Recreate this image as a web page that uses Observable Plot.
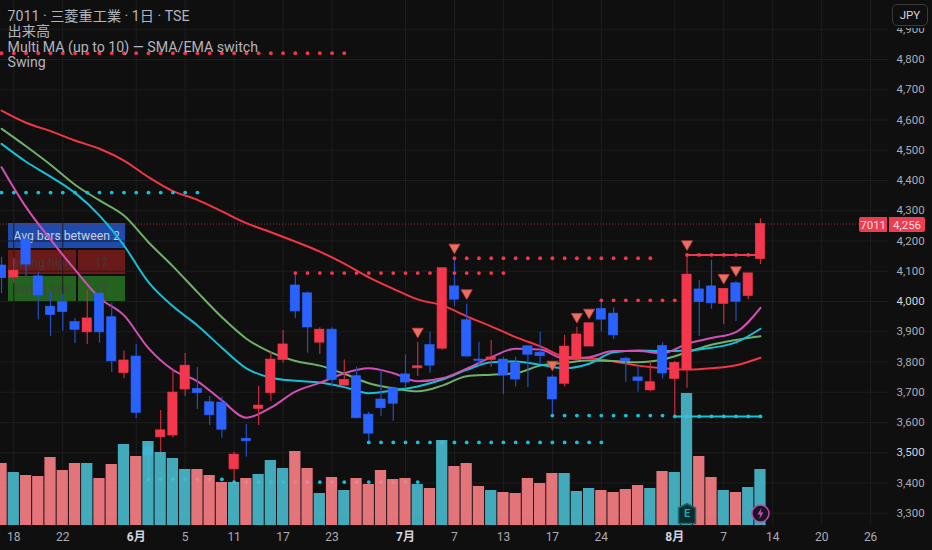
<!DOCTYPE html>
<html lang="ja">
<head>
<meta charset="utf-8">
<script src="https://cdn.jsdelivr.net/npm/d3@7"></script>
<script src="https://cdn.jsdelivr.net/npm/@observablehq/plot@0.6"></script>
<style>
  html, body { margin: 0; padding: 0; background: #0f0f0f; }
  #wrap { position: relative; width: 932px; height: 550px; overflow: hidden; font-family: Roboto, "Noto Sans CJK JP", sans-serif; }
  #wrap svg { position: absolute; left: 0; top: 0; display: block; }
  .cell { position: absolute; display: flex; align-items: center; justify-content: center; white-space: nowrap; }
</style>
</head>
<body>
<div id="wrap"></div>
<script>
const opens  = [4119,4079,4205,4083,3983,3998,3932,3898,4026,3948,3763,3818,3517,3551,3557,3709,3711,3667,3666,3445,3546,3645,3697,3807,4053,4027,3864,3907,3722,3753,3626,3676,3713,3759,3779,3856,3844,4050,3938,3808,3807,3808,3796,3852,3831,3749,3728,3807,3851,3975,3960,3811,3749,3706,3853,3744,3775,4040,4050,3992,4060,4018,4140];
const closes = [4077,4102,4122,4020,3955,3965,3906,3944,3898,3802,3805,3632,3491,3574,3699,3788,3697,3624,3576,3494,3538,3656,3808,3858,3967,3914,3907,3740,3741,3614,3563,3647,3662,3732,3786,3788,4110,4006,3818,3804,3815,3755,3742,3824,3819,3676,3851,3891,3928,3940,3888,3802,3737,3733,3762,3797,4089,3998,3994,4042,3999,4093,4256];
const highs  = [4146,4142,4208,4097,4031,4023,3944,4036,4033,3994,3836,3858,3537,3640,3775,3828,3782,3686,3684,3502,3593,3719,3832,3904,4092,4031,3913,3913,3807,3783,3634,3774,3717,3824,3865,3898,4110,4141,3992,3865,3871,3816,3816,3852,3898,3755,3888,3915,3928,4003,3979,3816,3783,3799,3863,3802,4152,4069,4136,4042,4066,4093,4273];
const lows   = [4026,4060,4083,3940,3884,3902,3861,3858,3862,3765,3745,3613,3412,3488,3549,3686,3643,3590,3548,3403,3485,3590,3669,3796,3943,3829,3825,3717,3722,3612,3535,3620,3604,3711,3752,3763,3838,3983,3818,3788,3783,3692,3717,3715,3794,3623,3717,3807,3851,3899,3874,3733,3700,3702,3744,3620,3713,3884,3974,3923,3934,4006,4122];
const volumes = [6.2,5.3,5.0,4.9,6.8,5.5,6.2,6.2,4.7,6.1,8.1,6.9,8.4,7.3,6.7,5.6,5.6,5.0,4.3,4.3,4.7,5.1,6.5,5.7,7.4,5.7,3.2,4.8,3.5,4.7,4.1,5.5,4.6,4.7,4.1,3.7,8.5,5.9,6.2,3.9,3.5,3.3,3.2,4.7,4.2,5.2,5.2,3.4,3.7,3.5,3.3,3.6,4.0,3.7,5.4,5.3,13.2,6.9,4.8,3.5,3.3,3.8,5.6];
const tealVolumeBars = [1,7,10,12,13,14,15,19,21,22,23,26,28,34,36,40,46,47,48,53,55,56,59,61,62];

const maIndex = [0,2,4,6,8,10,12,14,16,18,20,22,24,26,28,30,32,34,36,38,40,42,44,46,48,50,52,54,56,58,60,62];
const maRed     = [4631,4591,4563,4532,4505,4466,4411,4365,4336,4298,4259,4229,4198,4165,4125,4080,4042,4007,3987,3951,3918,3882,3852,3818,3813,3802,3788,3779,3775,3779,3789,3814];
const maGreen   = [4571,4513,4452,4386,4334,4284,4196,4116,4031,3948,3877,3832,3803,3788,3761,3730,3713,3703,3722,3753,3758,3763,3788,3797,3805,3803,3799,3808,3832,3857,3873,3885];
const maCyan    = [4521,4462,4413,4359,4284,4185,4064,3984,3921,3847,3779,3748,3738,3732,3717,3697,3706,3719,3742,3774,3799,3802,3791,3779,3794,3832,3838,3836,3838,3847,3865,3910];
const maMagenta = [4444,4312,4205,4105,4012,3954,3846,3774,3736,3673,3616,3649,3702,3731,3763,3779,3763,3736,3746,3778,3816,3844,3841,3811,3816,3836,3836,3829,3860,3879,3899,3979];

const redLevels  = [[0,28,4821],[24,41,4094],[37,53,4143],[49,55,4004],[56,62,4154]];
const cyanLevels = [[0,16,4360],[12,18,3412],[19,34,3403],[30,49,3534],[45,54,3623],[55,62,3620]];
const solidRed = [56,62,4154];
const solidCyan = [55,62,3620];

const swingIndex = [34,37,38,45,47,48,56,59,60];
const swingPrice = [3901,4179,4028,3792,3950,3964,4190,4079,4104];

const yTicksMinor = [3300,3400,3600,3700,3800,3900,4100,4200,4300,4400,4500,4600,4700,4800,4900];
const yTicksMajor = [3500,4000];
const xTickIndex = [1,5,15,19,23,27,37,41,45,49,59,63,67,71];
const xTickLabel = ["18","22","5","11","17","23","7","13","17","24","7","14","20","26"];
const xMonthIndex = [11,33,55];
const xMonthLabel = ["6月","7月","8月"];
const legendLines = ["7011 · 三菱重工業 · 1日 · TSE","出来高","Multi MA (up to 10) — SMA/EMA switch","Swing"];

const RED = "#f4374c", BLUE = "#2962ff", CYAN = "#12c4da";
const font = 'Roboto, "Noto Sans CJK JP", sans-serif';
const volBase = 3259.5, volUnit = 33.06;
const volY = v => volBase + v * volUnit;

const bars = opens.map((o,i) => ({i, o, c: closes[i], h: highs[i], l: lows[i], v: volumes[i], teal: tealVolumeBars.includes(i)}));
const levelDots = ls => ls.flatMap(([a,b,p]) => d3.range(a,b+1).map(i => ({i,p})));
const ma = arr => arr.map((p,k) => ({i: maIndex[k], p}));
const swings = swingIndex.map((i,k) => ({i, p: swingPrice[k]}));
const house = {draw(ctx,size){const r=Math.sqrt(size/Math.PI);[[0,-1],[.85,-.55],[.85,1],[-.85,1],[-.85,-.55]].forEach(([x,y],k)=>k?ctx.lineTo(x*r,y*r):ctx.moveTo(x*r,y*r));ctx.closePath();}};
const bolt = {draw(ctx,size){const r=Math.sqrt(size/Math.PI);[[.15,-1],[-.55,.15],[-.05,.15],[-.2,1],[.55,-.2],[.05,-.2]].forEach(([x,y],k)=>k?ctx.lineTo(x*r,y*r):ctx.moveTo(x*r,y*r));ctx.closePath();}};

const maLine = (arr,color) => Plot.line(ma(arr),{x:"i",y:"p",stroke:color,strokeWidth:2,curve:"monotone-x"});

const chart = Plot.plot({
  width: 932, height: 550,
  marginLeft: 0, marginRight: 44, marginTop: 0, marginBottom: 25,
  style: {background:"transparent", fontFamily: font, fontSize:"12px", color:"#b2b5be"},
  x: {domain:[-0.0866,72.46], axis:null},
  y: {domain:[3259.5,4995], axis:null},
  color: {type:"identity"},
  marks: [
    Plot.gridY([...yTicksMinor,...yTicksMajor],{stroke:"#1e1e1e",strokeOpacity:1}),
    Plot.gridX([...xTickIndex,...xMonthIndex],{stroke:"#1e1e1e",strokeOpacity:1}),
    Plot.ruleY([closes[closes.length-1]],{stroke:"#a32a3a",strokeDasharray:"1,2",strokeWidth:1}),
    maLine(maRed,"#f23645"),
    maLine(maGreen,"#6fb06a"),
    maLine(maCyan,"#14c0d8"),
    maLine(maMagenta,"#d44fb5"),
    Plot.ruleX(bars,{x:"i",y1:"l",y2:"h",stroke:d=>d.c>=d.o?"#c42c3f":"#2450c0",strokeWidth:1.2}),
    Plot.rect(bars,{x1:d=>d.i-.38,x2:d=>d.i+.38,y1:"o",y2:"c",fill:d=>d.c>=d.o?RED:BLUE,stroke:d=>d.c>=d.o?RED:BLUE,strokeWidth:.6}),
    Plot.ruleY([solidRed],{x1:d=>d[0],x2:d=>d[1],y:d=>d[2],stroke:RED,strokeWidth:2}),
    Plot.ruleY([solidCyan],{x1:d=>d[0],x2:d=>d[1],y:d=>d[2],stroke:CYAN,strokeWidth:2}),
    Plot.dot(levelDots(redLevels),{x:"i",y:"p",r:1.9,fill:RED}),
    Plot.dot(levelDots(cyanLevels),{x:"i",y:"p",r:1.9,fill:CYAN}),
    Plot.dot(swings,{x:"i",y:"p",symbol:"triangle",rotate:180,r:4.1,fill:"#e9725f",stroke:"#d43c4a",strokeWidth:.8}),
    Plot.rect(bars,{x1:d=>d.i-.46,x2:d=>d.i+.46,y1:()=>volBase,y2:d=>volY(d.v),fill:d=>d.teal?"#48bbcd":"#f97f86",fillOpacity:.9}),
    Plot.dot([{i:56,p:3299}],{x:"i",y:"p",symbol:house,r:10,fill:"#0e2a2c",stroke:"#0f7071",strokeWidth:1.5}),
    Plot.text([{i:56,p:3299,t:"E"}],{x:"i",y:"p",text:"t",fill:"#1fa9a8",fontSize:11,fontWeight:700}),
    Plot.dot([{i:62,p:3299}],{x:"i",y:"p",r:8.5,fill:"#1b1420",stroke:"#b84bb0",strokeWidth:1.5}),
    Plot.dot([{i:62,p:3299}],{x:"i",y:"p",symbol:bolt,r:5.5,fill:"#c04cb8"}),
    Plot.axisY(yTicksMinor,{anchor:"right",tickSize:0,tickPadding:8,tickFormat:d3.format(","),label:null,fill:"#a9acb3",fontSize:11.5}),
    Plot.axisY(yTicksMajor,{anchor:"right",tickSize:0,tickPadding:8,tickFormat:d3.format(","),label:null,fill:"#d1d4dc",fontSize:11.5}),
    Plot.axisX(xTickIndex,{anchor:"bottom",tickSize:0,tickPadding:7,tickFormat:i=>xTickLabel[xTickIndex.indexOf(i)],label:null,fill:"#a9acb3",fontSize:12}),
    Plot.axisX(xMonthIndex,{anchor:"bottom",tickSize:0,tickPadding:7,tickFormat:i=>xMonthLabel[xMonthIndex.indexOf(i)],label:null,fill:"#d1d4dc",fontSize:12,fontWeight:700}),
    ...legendLines.map((t,k)=>Plot.text([t],{frameAnchor:"top-left",dx:7,dy:16+k*15.3,lineAnchor:"middle",textAnchor:"start",fill:"#b2b5be",fontSize:14.2}))
  ]
});

const wrap = document.getElementById("wrap");
const box = (l,t,w,h,bg,txt,color,size,extra) => {
  const d = document.createElement("div");
  d.className = "cell";
  d.style.cssText = `left:${l}px;top:${t}px;width:${w}px;height:${h}px;background:${bg};color:${color};font-size:${size}px;${extra||""}`;
  d.textContent = txt;
  wrap.appendChild(d);
};
// table sits beneath the price series
box(8.3,223.3,116.7,25,"#1f4bad","Avg bars between 2","#c7d0dc",12.2);
box(8.3,250,67.7,24.3,"#6b1a1a","swing high","#4a3434",12.5);
box(78,250,47,24.3,"#6b1a1a","17","#4a3434",12.5);
box(8.3,276,67.7,25,"#23631f","swing low","#3f4a3c",12.5);
box(78,276,47,25,"#23631f","17","#3f4a3c",12.5);
wrap.appendChild(chart);
// overlays above the series
box(859,217.3,28.3,14.7,"#f03c50","7011","#f6dfe2",11.5,"border-radius:2px 0 0 2px;");
box(889,217.3,36,14.7,"#f03c50","4,256","#f6dfe2",11.5,"border-radius:0 2px 2px 0;");
box(891.7,3.5,36.6,22.5,"#0f0f0f","JPY","#d1d4dc",11.5,"box-sizing:border-box;border:1px solid #3a3a3a;border-radius:5px;box-shadow:0 0 0 2px #0f0f0f;");
</script>
</body>
</html>
